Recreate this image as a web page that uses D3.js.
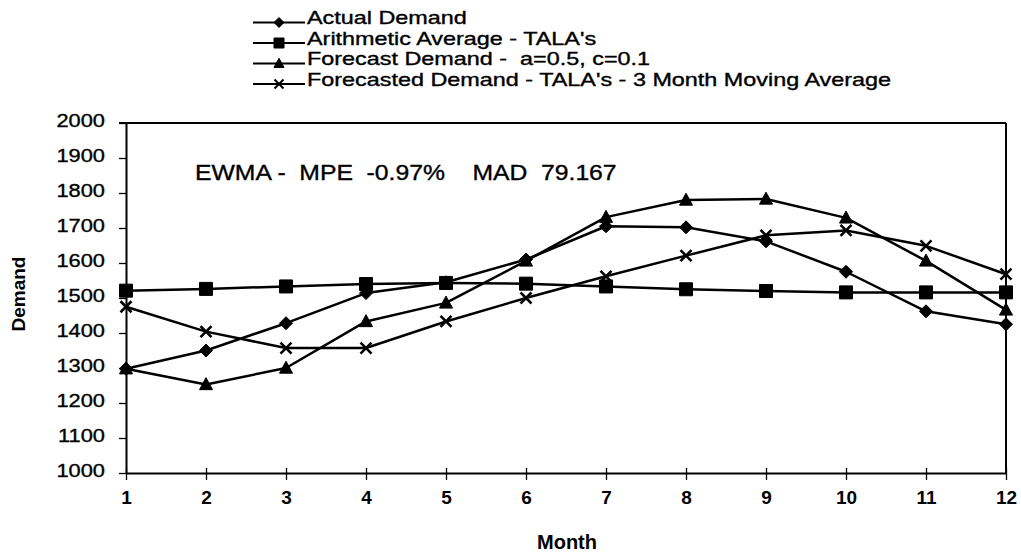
<!DOCTYPE html>
<html>
<head>
<meta charset="utf-8">
<script src="https://cdn.jsdelivr.net/npm/d3@7"></script>
<style>
  html, body { margin: 0; padding: 0; background: #fff; }
  svg { display: block; }
  text { font-family: "Liberation Sans", Arial, Helvetica, sans-serif; fill: #000; }
  .heavy { stroke: #000; stroke-width: 0.35px; }
</style>
</head>
<body>
<svg id="chart" width="1021" height="557"></svg>
<script>
// Monthly demand versus three forecasting methods
const months = ["1", "2", "3", "4", "5", "6", "7", "8", "9", "10", "11", "12"];
const actualDemand      = [1298, 1350, 1428, 1514, 1545, 1610, 1705, 1702, 1662, 1575, 1462, 1425];
const arithmeticAverage = [1521, 1526, 1533, 1540, 1543, 1541, 1533, 1525, 1520, 1516, 1516, 1516];
const forecastDemand    = [1298, 1253, 1300, 1433, 1486, 1606, 1731, 1780, 1783, 1729, 1606, 1466];
const movingAverage     = [1475, 1404, 1357, 1357, 1433, 1500, 1562, 1621, 1679, 1693, 1649, 1568];
const yTicks = [1000, 1100, 1200, 1300, 1400, 1500, 1600, 1700, 1800, 1900, 2000];
const legendLabels = [
  "Actual Demand",
  "Arithmetic Average - TALA's",
  "Forecast Demand -  a=0.5, c=0.1",
  "Forecasted Demand - TALA's - 3 Month Moving Average"
];
const markerTypes = ["diamond", "square", "triangle", "cross"];
const annotation = "EWMA -  MPE  -0.97%    MAD  79.167";
const xTitle = "Month";
const yTitle = "Demand";

const seriesValues = [actualDemand, arithmeticAverage, forecastDemand, movingAverage];

const svg = d3.select("#chart");
const SX = 1.15; // horizontal stretch applied to regular text

const x = d3.scalePoint().domain(months).range([126, 1006]).padding(0);
const y = d3.scaleLinear().domain([1000, 2000]).range([473, 123]);

const xL = x(months[0]), xR = x(months[months.length - 1]);

// Marker shapes centred on (0,0)
function markerPath(type, r) {
  switch (type) {
    case "diamond":  return `M0,${-r}L${r},0L0,${r}L${-r},0Z`;
    case "square":   return `M${-r},${-r}h${2 * r}v${2 * r}h${-2 * r}Z`;
    case "triangle": return `M0,${-r * 1.05}L${r},${r * 0.8}L${-r},${r * 0.8}Z`;
    case "cross":    return `M${-r},${-r}L${r},${r}M${-r},${r}L${r},${-r}`;
  }
}
function drawMarker(g, type, r, sw) {
  const p = g.append("path").attr("d", markerPath(type, r));
  if (type === "cross") p.attr("fill", "none").attr("stroke", "#000").attr("stroke-width", sw);
  else p.attr("fill", "#000").attr("stroke", "#000").attr("stroke-width", 1);
}

// Frame: top and right border of plot area
svg.append("line")
  .attr("x1", xL - 7).attr("x2", xR)
  .attr("y1", y(2000)).attr("y2", y(2000))
  .attr("stroke", "#000").attr("stroke-width", 2);
svg.append("line")
  .attr("x1", xR).attr("x2", xR)
  .attr("y1", y(2000)).attr("y2", y(1000))
  .attr("stroke", "#000").attr("stroke-width", 2);

// Y axis
const yAxis = svg.append("g")
  .attr("transform", `translate(${xL},0)`)
  .call(d3.axisLeft(y).tickValues(yTicks).tickSize(7).tickSizeOuter(0).tickFormat(d3.format("d")))
  .attr("font-family", null).attr("font-size", null);
yAxis.select(".domain").attr("stroke-width", 2);
yAxis.selectAll(".tick line").attr("stroke-width", 1.3);
yAxis.selectAll(".tick text")
  .attr("x", null).attr("dy", null)
  .attr("class", "heavy")
  .attr("font-size", 19)
  .attr("transform", `translate(-21,3.3) scale(${SX},1)`);

// X axis
const xAxis = svg.append("g")
  .attr("transform", `translate(0,${y(1000)})`)
  .call(d3.axisBottom(x).tickSize(12).tickSizeOuter(0))
  .attr("font-family", null).attr("font-size", null);
xAxis.select(".domain").attr("stroke-width", 2);
xAxis.selectAll(".tick line").attr("y1", -5).attr("y2", 7).attr("stroke-width", 1.3);
xAxis.selectAll(".tick text")
  .attr("y", null).attr("dy", null)
  .attr("font-size", 19).attr("font-weight", "bold")
  .attr("transform", "translate(0,31)");

// Series lines and markers
const line = d3.line().x((d, i) => x(months[i])).y(d => y(d));
seriesValues.forEach((vals, s) => {
  svg.append("path")
    .datum(vals)
    .attr("d", line)
    .attr("fill", "none")
    .attr("stroke", "#000")
    .attr("stroke-width", 2.5)
    .attr("stroke-linejoin", "round");
  vals.forEach((v, i) => {
    const g = svg.append("g").attr("transform", `translate(${x(months[i])},${y(v)})`);
    drawMarker(g, markerTypes[s], markerTypes[s] === "cross" ? 5.5 : 6.5, 2.6);
  });
});

// Legend
const LSX = 1.3;
legendLabels.forEach((label, i) => {
  const b = 24 + i * 20.5;
  svg.append("line")
    .attr("x1", 253).attr("x2", 305)
    .attr("y1", b - 1.5).attr("y2", b - 1.5)
    .attr("stroke", "#000").attr("stroke-width", 2);
  const g = svg.append("g").attr("transform", `translate(279,${b - 1.5})`);
  drawMarker(g, markerTypes[i], markerTypes[i] === "cross" ? 4.5 : 5, 2);
  svg.append("text")
    .attr("class", "heavy")
    .attr("transform", `translate(307,${b}) scale(${LSX},1)`)
    .attr("font-size", 18)
    .style("white-space", "pre")
    .text(label);
});

// Error statistics note
svg.append("text")
  .attr("class", "heavy")
  .attr("transform", `translate(195,180) scale(${SX},1)`)
  .attr("font-size", 21.5)
  .style("white-space", "pre")
  .text(annotation);

// Axis titles
svg.append("text")
  .attr("x", 567).attr("y", 549)
  .attr("text-anchor", "middle")
  .attr("font-size", 20).attr("font-weight", "bold")
  .text(xTitle);
svg.append("text")
  .attr("transform", "translate(25,294) rotate(-90)")
  .attr("text-anchor", "middle")
  .attr("font-size", 19).attr("font-weight", "bold")
  .text(yTitle);
</script>
</body>
</html>
